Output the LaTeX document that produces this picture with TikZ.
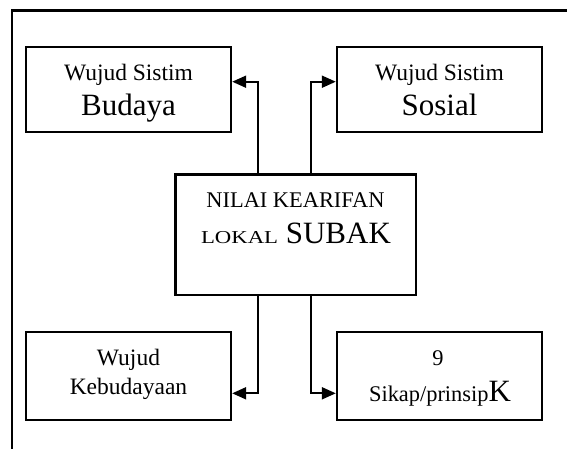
\documentclass[tikz,border=0pt]{standalone}
\usepackage{fontspec}
\usepackage{graphicx}
\setmainfont{Liberation Serif}
\usetikzlibrary{arrows.meta}
\newcommand{\fsm}{\fontsize{23.5}{28}\selectfont}
\newcommand{\flg}{\fontsize{31}{36}\selectfont}
\newcommand{\fmd}{\fontsize{22.4}{27}\selectfont}
\begin{document}
\begin{tikzpicture}[x=1pt,y=-1pt,
  box/.style={draw,line width=2.4pt,rectangle,inner sep=0pt},
  txt/.style={anchor=base,inner sep=0pt},
  conn/.style={line width=2pt,-{Triangle[length=14pt,width=12pt]}}]
\useasboundingbox (0,0) rectangle (567,448);
\draw[line width=2.2pt] (12,449) -- (12,10.5) -- (568,10.5);
% boxes
\node[box,minimum width=205pt,minimum height=85pt] (A) at (128.5,89.5) {};
\node[box,minimum width=205pt,minimum height=85pt] (B) at (439.5,89.5) {};
\node[box,minimum width=240.4pt,minimum height=120.7pt] (C) at (295.5,234.7) {};
\node[box,minimum width=205pt,minimum height=88pt] (D) at (128.5,376) {};
\node[box,minimum width=205pt,minimum height=88pt] (E) at (439.5,376) {};
% texts
\node[txt] (a1) at (128.5,80) {\fsm Wujud Sistim};
\node[txt] (a2) at (128.5,115) {\flg Budaya};
\node[txt] (b1) at (439.5,80) {\fsm Wujud Sistim};
\node[txt] (b2) at (439.5,115) {\flg Sosial};
\node[txt] (c1) at (295.5,207.3) {\fmd NILAI KEARIFAN};
\node[txt] (c2) at (296,243.3) {\scalebox{1.25}[1]{\fontsize{18.2}{20}\selectfont LOKAL}\flg\ SUBAK};
\node[txt] (d1) at (128.5,365.7) {\fsm Wujud};
\node[txt] (d2) at (128.5,394) {\fsm Kebudayaan};
\node[txt] (e1) at (438,365) {\fmd 9};
\node[txt] (e2) at (440,401) {\fmd Sikap/prinsip{\flg K}};
% connector guides
\coordinate (xL) at (258.3,0);
\coordinate (xR) at (311,0);
\coordinate (yU) at (0,81.7);
\coordinate (yD) at (0,393.3);
\draw[conn] (C.north -| xL) -- (xL |- yU) -- (A.east |- yU);
\draw[conn] (C.north -| xR) -- (xR |- yU) -- (B.west |- yU);
\draw[conn] (C.south -| xL) -- (xL |- yD) -- (D.east |- yD);
\draw[conn] (C.south -| xR) -- (xR |- yD) -- (E.west |- yD);
\end{tikzpicture}
\end{document}
